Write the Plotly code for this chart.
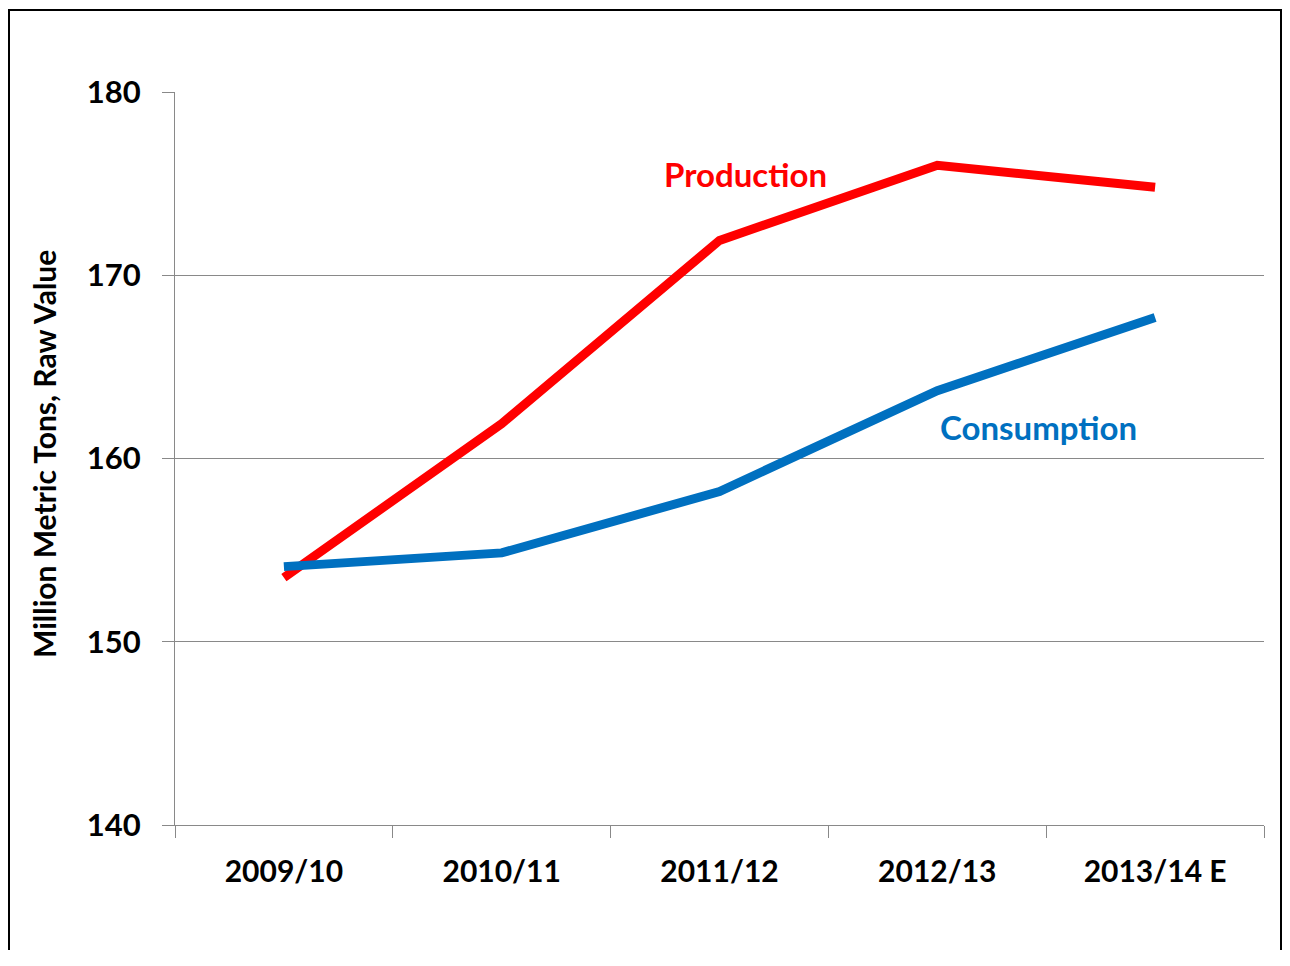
import plotly.graph_objects as go

years = ["2009/10", "2010/11", "2011/12", "2012/13", "2013/14 E"]
production = [153.5, 161.9, 171.9, 176.0, 174.8]
consumption = [154.1, 154.85, 158.2, 163.7, 167.7]
y_ticks = [140, 150, 160, 170, 180]

OFF = 8  # page body margin
L, R, T, B = 175 - OFF, 1264 - OFF, 92 - OFF, 825 - OFF
W, H = 1290 - 2 * OFF, 966 - 3 * OFF

def px(x):
    return (x - OFF - L) / (R - L)

def py(y):
    return (B - (y - OFF)) / (B - T)

fig = go.Figure()
fig.add_trace(go.Scatter(x=years, y=production, mode="lines",
                         line=dict(color="#FF0000", width=9), name="Production"))
fig.add_trace(go.Scatter(x=years, y=consumption, mode="lines",
                         line=dict(color="#0070C0", width=9), name="Consumption"))

font = "Lato, 'Open Sans', sans-serif"

fig.update_layout(
    width=W, height=H,
    margin=dict(l=L, r=W - R, t=T, b=H - B),
    paper_bgcolor="white", plot_bgcolor="white",
    showlegend=False,
    font=dict(family=font, color="black"),
    xaxis=dict(type="category", range=[-0.5, 4.5], tickson="boundaries",
               ticks="outside", ticklen=12, tickcolor="#898989", tickwidth=1,
               showline=True, linecolor="#898989", linewidth=1,
               showgrid=False, ticklabelstandoff=20,
               tickfont=dict(family=font, size=30, color="black", weight="bold")),
    yaxis=dict(range=[140, 180], tickvals=y_ticks, ticks="outside", ticklen=12,
               tickcolor="#898989", tickwidth=1,
               showline=True, linecolor="#898989", linewidth=1,
               showgrid=True, gridcolor="#898989", gridwidth=1,
               zeroline=False, ticklabelstandoff=15,
               tickfont=dict(family=font, size=31, color="black", weight="bold")),
)

fig.add_annotation(x=px(44), y=py(454), xref="paper", yref="paper",
                   xanchor="center", yanchor="middle",
                   text="Million Metric Tons, Raw Value", textangle=-90,
                   showarrow=False,
                   font=dict(family=font, size=30, color="black", weight="bold"))
fig.add_annotation(x=px(745), y=py(174), xref="paper", yref="paper",
                   xanchor="center", yanchor="middle",
                   text="Production", showarrow=False,
                   font=dict(family=font, size=33, color="#FF0000", weight="bold"))
fig.add_annotation(x=px(1038), y=py(427), xref="paper", yref="paper",
                   xanchor="center", yanchor="middle",
                   text="Consumption", showarrow=False,
                   font=dict(family=font, size=33, color="#0070C0", weight="bold"))

fig.add_shape(type="rect", xref="paper", yref="paper",
              x0=px(9), x1=px(1281), y0=py(1000), y1=py(10),
              line=dict(color="black", width=2), fillcolor="rgba(0,0,0,0)",
              layer="below")

fig.write_html("out.html")
